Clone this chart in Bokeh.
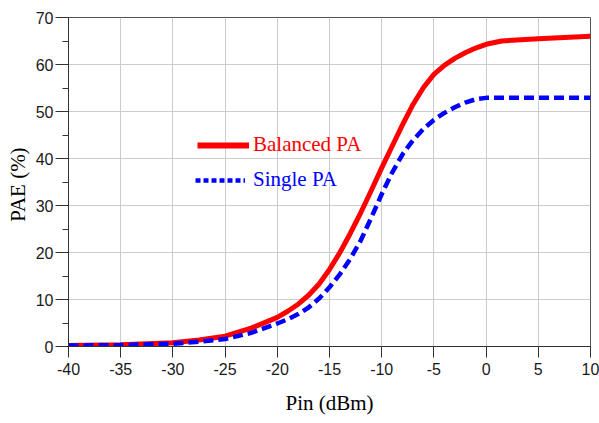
from bokeh.plotting import figure
from bokeh.models import (Range1d, SingleIntervalTicker, Legend, LegendItem,
                          ColumnDataSource, PrintfTickFormatter)
from bokeh.embed import file_html
from bokeh.resources import INLINE

# ---- data ----
pin = [-40, -35, -30, -27.5, -25, -22.5, -20, -19, -18, -17, -16, -15, -14, -13, -12, -11,
       -10, -9, -8, -7, -6, -5, -4, -3, -2, -1, 0, 1.5, 5, 10]
balanced_pa = [0.2, 0.35, 0.8, 1.4, 2.2, 3.9, 6.2, 7.5, 9.0, 10.9, 13.3, 16.4, 20.0, 24.1,
               28.5, 33.2, 38.0, 42.6, 47.2, 51.5, 55.1, 57.9, 59.8, 61.3, 62.5, 63.5,
               64.3, 65.0, 65.5, 66.0]
single_pa = [0.2, 0.3, 0.6, 1.0, 1.6, 2.9, 4.9, 5.8, 6.9, 8.3, 10.2, 12.6, 15.4, 18.7,
             22.6, 27.4, 32.4, 37.0, 40.9, 43.9, 46.3, 48.2, 49.7, 50.9, 51.9, 52.6,
             52.9, 52.9, 52.9, 52.9]

x_label = "Pin (dBm)"
y_label = "PAE  (%)"
series_names = ["Balanced PA", "Single PA"]

src = ColumnDataSource(dict(pin=pin, bal=balanced_pa, sgl=single_pa))

p = figure(width=599, height=423, output_backend="svg", toolbar_location=None,
           x_range=Range1d(-40, 10), y_range=Range1d(0, 70),
           min_border_left=68, min_border_right=9, min_border_top=17,
           min_border_bottom=77)

p.background_fill_color = "white"
p.border_fill_color = "white"
p.outline_line_color = "#555555"
p.outline_line_width = 1

# grids
for g in (p.xgrid, p.ygrid):
    g.grid_line_color = "#cccccc"
    g.grid_line_width = 1

# axes
p.xaxis.ticker = SingleIntervalTicker(interval=5, num_minor_ticks=0)
p.yaxis.ticker = SingleIntervalTicker(interval=10, num_minor_ticks=2)
p.xaxis.formatter = PrintfTickFormatter(format="%d")
p.yaxis.formatter = PrintfTickFormatter(format="%d")
for ax in (p.xaxis[0], p.yaxis[0]):
    ax.axis_line_color = "#333333"
    ax.major_tick_line_color = "#333333"
    ax.minor_tick_line_color = "#333333"
    ax.major_tick_in = 0
    ax.minor_tick_in = 0
    ax.major_label_text_font = "Liberation Sans"
    ax.major_label_text_font_size = "16px"
    ax.major_label_text_color = "#1a1a1a"
    ax.axis_label_text_font = "Liberation Serif"
    ax.axis_label_text_font_size = "21px"
    ax.axis_label_text_font_style = "normal"
    ax.axis_label_text_color = "#000000"

p.xaxis.major_tick_out = 11
p.xaxis.minor_tick_line_color = None
p.xaxis.major_label_standoff = 5
p.xaxis.axis_label = x_label
p.xaxis.axis_label_standoff = 13

p.yaxis.major_tick_out = 13
p.yaxis.minor_tick_out = 6
p.yaxis.major_label_standoff = 2
p.yaxis.axis_label = y_label
p.yaxis.axis_label_standoff = 3

# curves
r_bal = p.line("pin", "bal", source=src, line_color="#ff0000", line_width=5)
r_sgl = p.line("pin", "sgl", source=src, line_color="#0000ff", line_width=4.5,
               line_dash="10 5")

# legend samples (invisible NaN renderers so the legend dash can differ)
nan = float("nan")
empty = ColumnDataSource(dict(x=[nan], y=[nan]))
leg_bal = p.line("x", "y", source=empty, line_color="#ff0000", line_width=6)
leg_sgl = p.line("x", "y", source=empty, line_color="#0000ff", line_width=4.5,
                 line_dash="5 3")

def make_legend(name, rend, loc, color, gw, standoff):
    lg = Legend(items=[LegendItem(label=name, renderers=[rend])],
                location=loc, padding=0, margin=0, spacing=0,
                glyph_width=gw, glyph_height=24, label_height=24,
                label_standoff=standoff,
                border_line_alpha=0, background_fill_alpha=0,
                label_text_font="Liberation Serif",
                label_text_font_size="21px",
                label_text_color=color)
    p.add_layout(lg, "center")

make_legend(series_names[0], leg_bal, (129, 189), "#ff0000", 52, 4)
make_legend(series_names[1], leg_sgl, (127, 154), "#0000ff", 50, 8)

open("out.html", "w").write(file_html(p, INLINE))
